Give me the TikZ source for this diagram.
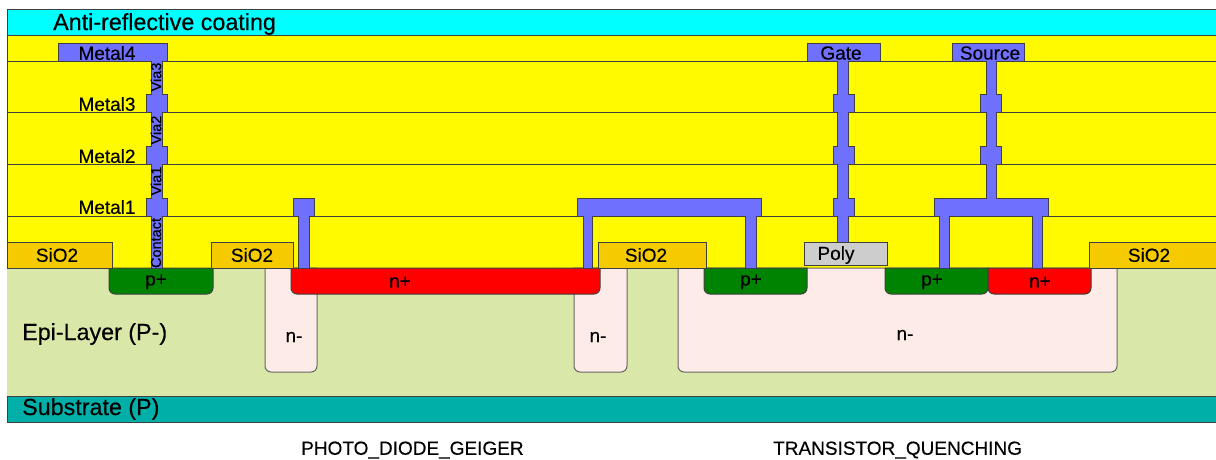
\documentclass[tikz,border=0pt]{standalone}
\usepackage{fontspec}
\setmainfont[FakeBold=0.3]{Liberation Sans}
\usepackage{tikz}
\usetikzlibrary{positioning}
\definecolor{arcCol}{HTML}{00FFFF}
\definecolor{oxCol}{HTML}{FFFA00}
\definecolor{metalCol}{HTML}{7070FF}
\definecolor{sioCol}{HTML}{F5CB00}
\definecolor{pplusCol}{HTML}{008300}
\definecolor{nplusCol}{HTML}{FF0000}
\definecolor{epiCol}{HTML}{D9E8A8}
\definecolor{nwellCol}{HTML}{FCEBE7}
\definecolor{subCol}{HTML}{00B0A8}
\definecolor{polyCol}{HTML}{CDCDCD}
\definecolor{edgeCol}{HTML}{404040}
\tikzstyle{Layer} = [draw=edgeCol, line width=1pt]
\tikzstyle{Metal} = [Layer, fill=metalCol]
\tikzstyle{Well} = [Layer, draw=edgeCol!80]
\tikzstyle{Big} = [inner sep=0pt, font=\fontsize{23.3}{23.3}\selectfont]
\tikzstyle{Lab} = [inner sep=0pt, font=\fontsize{19}{19}\selectfont]
\tikzstyle{Tiny} = [inner sep=0pt, rotate=90, font=\fontsize{14.5}{14.5}\selectfont]
\begin{document}
\begin{tikzpicture}[x=1pt, y=-1pt]
   \useasboundingbox (0,0) rectangle (1216,459);

   % stack
   \draw [Layer, fill=arcCol] (7,9) rectangle (1216,35);
   \draw [Layer, fill=oxCol] (7,35) rectangle (1216,268);
   \draw [Layer, fill=epiCol, draw=epiCol] (7,268) rectangle (1216,396);
   \draw [Layer, fill=subCol] (7,396) rectangle (1216,422);
   \draw [Layer] (7,61) -- (1216,61);
   \draw [Layer] (7,112) -- (1216,112);
   \draw [Layer] (7,164) -- (1216,164);
   \draw [Layer] (7,216) -- (1216,216);

   % wells
   \draw [Well, fill=nwellCol] (265,268) [rounded corners=6pt] -- (265,372) -- (317,372) [sharp corners] -- (317,268) -- cycle;
   \draw [Well, fill=nwellCol] (574,268) [rounded corners=6pt] -- (574,372) -- (627,372) [sharp corners] -- (627,268) -- cycle;
   \draw [Well, fill=nwellCol] (678,268) [rounded corners=6pt] -- (678,372) -- (1117,372) [sharp corners] -- (1117,268) -- cycle;

   % implants
   \draw [Layer, fill=pplusCol] (109,268) [rounded corners=6pt] -- (109,294) -- (213,294) [sharp corners] -- (213,268) -- cycle;
   \draw [Layer, fill=nplusCol] (291,268) [rounded corners=6pt] -- (291,294) -- (600,294) [sharp corners] -- (600,268) -- cycle;
   \draw [Layer, fill=pplusCol] (704,268) [rounded corners=6pt] -- (704,294) -- (807,294) [sharp corners] -- (807,268) -- cycle;
   \draw [Layer, fill=pplusCol] (885,268) [rounded corners=6pt] -- (885,294) -- (988,294) [sharp corners] -- (988,268) -- cycle;
   \draw [Layer, fill=nplusCol] (988,268) [rounded corners=6pt] -- (988,294) -- (1091,294) [sharp corners] -- (1091,268) -- cycle;

   % oxide and poly
   \draw [Layer, fill=sioCol] (7,242) rectangle (112,268);
   \draw [Layer, fill=sioCol] (211,242) rectangle (293,268);
   \draw [Layer, fill=sioCol] (598,242) rectangle (706,268);
   \draw [Layer, fill=sioCol] (1089,242) rectangle (1216,268);
   \draw [Layer, fill=polyCol] (804,242) rectangle (887,265);

   % metal
   \draw [Metal] (58,43) -- (167,43) -- (167,61) -- (162,61) -- (162,94) -- (167,94) -- (167,112) -- (162,112) -- (162,146) -- (167,146) -- (167,164) -- (162,164) -- (162,198) -- (167,198) -- (167,216) -- (162,216) -- (162,268) -- (151,268) -- (151,216) -- (146,216) -- (146,198) -- (151,198) -- (151,164) -- (146,164) -- (146,146) -- (151,146) -- (151,112) -- (146,112) -- (146,94) -- (151,94) -- (151,61) -- (58,61) -- cycle;
   \draw [Metal] (293,198) -- (314,198) -- (314,216) -- (309,216) -- (309,268) -- (298,268) -- (298,216) -- (293,216) -- cycle;
   \draw [Metal] (577,198) -- (761,198) -- (761,216) -- (756,216) -- (756,268) -- (745,268) -- (745,216) -- (592,216) -- (592,268) -- (583,268) -- (583,216) -- (577,216) -- cycle;
   \draw [Metal] (807,43) -- (880,43) -- (880,61) -- (848,61) -- (848,94) -- (854,94) -- (854,112) -- (848,112) -- (848,146) -- (854,146) -- (854,164) -- (848,164) -- (848,198) -- (854,198) -- (854,216) -- (848,216) -- (848,242) -- (837,242) -- (837,216) -- (833,216) -- (833,198) -- (837,198) -- (837,164) -- (833,164) -- (833,146) -- (837,146) -- (837,112) -- (833,112) -- (833,94) -- (837,94) -- (837,61) -- (807,61) -- cycle;
   \draw [Metal] (952,43) -- (1024,43) -- (1024,61) -- (996,61) -- (996,94) -- (1001,94) -- (1001,112) -- (996,112) -- (996,146) -- (1001,146) -- (1001,164) -- (996,164) -- (996,198) -- (1048,198) -- (1048,216) -- (1042,216) -- (1042,268) -- (1032,268) -- (1032,216) -- (949,216) -- (949,268) -- (939,268) -- (939,216) -- (934,216) -- (934,198) -- (986,198) -- (986,164) -- (980,164) -- (980,146) -- (986,146) -- (986,112) -- (980,112) -- (980,94) -- (986,94) -- (986,61) -- (952,61) -- cycle;

   % labels
   \node [Big, anchor=west] (arc) at (53,24) {Anti-reflective coating};
   \node [Lab] (m4) at (107,53) {Metal4};
   \node [Lab] (m3) at (107,104) {Metal3};
   \node [Lab] (m2) at (107,156) {Metal2};
   \node [Lab] (m1) at (107,207) {Metal1};
   \node [Tiny] (v3) at (156,77) {Via3};
   \node [Tiny] (v2) at (156,130) {Via2};
   \node [Tiny] (v1) at (156,181) {Via1};
   \node [Tiny] (ct) at (156,243) {Contact};
   \node [Lab] (gate) at (841,53) {Gate};
   \node [Lab] (source) at (990,53) {Source};
   \node [Lab] (ox0) at (57,255) {SiO2};
   \node [Lab] (ox1) at (252,255) {SiO2};
   \node [Lab] (ox2) at (646,255) {SiO2};
   \node [Lab] (ox3) at (1149,255) {SiO2};
   \node [Lab] (poly) at (836,255) {Poly};
   \node [Lab] (p0) at (156,282) {p+};
   \node [Lab] (n0) at (400,282) {n+};
   \node [Lab] (p1) at (751,282) {p+};
   \node [Lab] (p2) at (932,282) {p+};
   \node [Lab] (n1) at (1040,282) {n+};
   \node [Lab] (w0) at (294,337) {n-};
   \node [Lab] (w1) at (598,337) {n-};
   \node [Lab] (w2) at (905,335) {n-};
   \node [Big, anchor=west] (epi) at (22,334) {Epi-Layer (P-)};
   \node [Big, anchor=west] (sub) at (22,409) {Substrate (P)};
   \node [Lab, anchor=west] (pd) at (301,450) {PHOTO\_DIODE\_GEIGER};
   \node [Lab, anchor=west] (tq) at (773,450) {TRANSISTOR\_QUENCHING};
\end{tikzpicture}
\end{document}
